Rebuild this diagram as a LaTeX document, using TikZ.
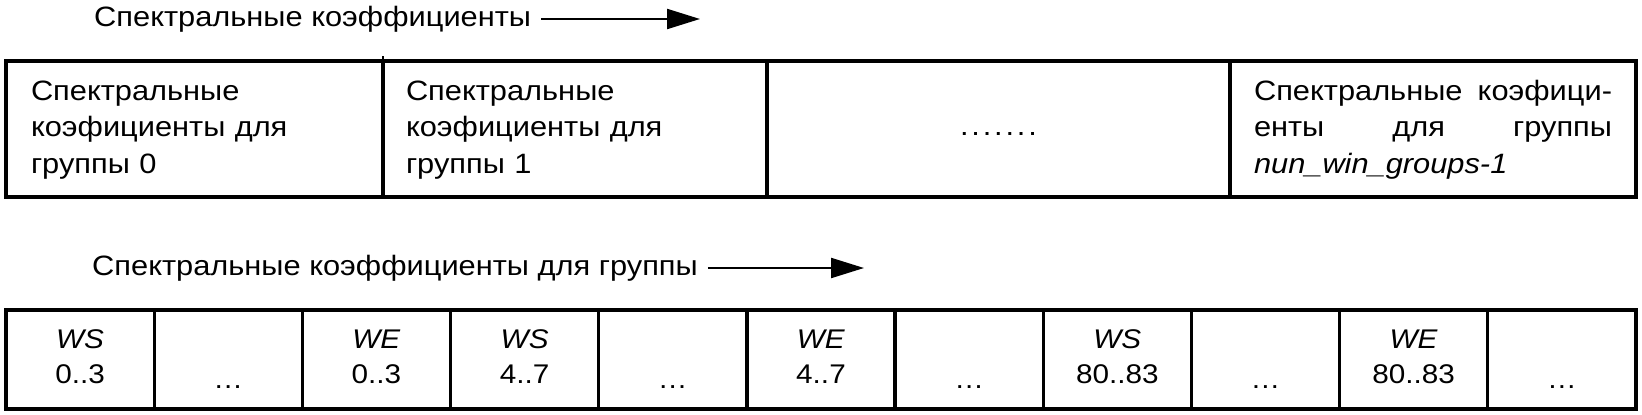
\documentclass[tikz,border=0pt]{standalone}
\usepackage{fontspec}
\setmainfont{Liberation Sans}[FakeStretch=1.1]
\usetikzlibrary{arrows.meta,positioning}

\begin{document}
\begin{tikzpicture}[
  x=1pt, y=-1pt,
  font=\fontsize{28}{36.5}\selectfont,
  node distance=0pt,
  grp/.style={draw, line width=3.2pt, outer sep=0pt, inner sep=0pt, minimum height=136pt, align=left, text height=22pt, text depth=80pt},
  win/.style={draw, line width=3.2pt, outer sep=0pt, inner sep=0pt, minimum width=148.18pt, minimum height=99pt, text width=130pt, align=center, font=\fontsize{27}{35}\selectfont, text height=22pt, text depth=45pt},
  gap/.style={win, text height=60pt, text depth=3pt},
  lbl/.style={inner sep=0pt, anchor=west},
  flow/.style={line width=2.2pt, -{Triangle[length=33pt, width=20pt]}}
]
\useasboundingbox (0,0) rectangle (1642,415);

% upper row: groups
\node[lbl] (lblTop) at (94,19) {Спектральные коэффициенты};
\coordinate (topTip) at (700,19);
\draw[flow] ([xshift=10pt]lblTop.east) -- (lblTop.east -| topTip);

\node[grp, anchor=north west, minimum width=377pt, text width=327pt] (g0) at (6,61) {Спектральные\\коэфициенты для\\группы 0};
\node[grp, right=of g0, minimum width=384pt, text width=338pt] (g1) {Спектральные\\коэфициенты для\\группы 1};
\node[grp, right=of g1, minimum width=463pt, text width=400pt, align=center, text height=20pt, text depth=8pt] (gdots) {\addfontfeatures{LetterSpace=10}.......};
\node[grp, right=of gdots, minimum width=406pt, text width=358pt] (glast) {\makebox[358pt][s]{Спектральные\hfill коэфици-}\\\makebox[358pt][s]{енты\hfill для\hfill группы}\\\textit{nun\_win\_groups-1}};
\draw[line width=1.2pt] (g1.north west) -- ++(0,-5);

% lower row: windows of one group
\node[lbl] (lblBot) at (92,268) {Спектральные коэффициенты для группы};
\coordinate (botTip) at (864,266);
\draw[flow] ([xshift=10pt]lblBot.east) -- (lblBot.east -| botTip);

\node[win, anchor=north west] (w1) at (6,310) {\textit{WS}\\0..3};
\node[gap, right=of w1] (w2) {…};
\node[win, right=of w2] (w3) {\textit{WE}\\0..3};
\node[win, right=of w3] (w4) {\textit{WS}\\4..7};
\node[gap, right=of w4] (w5) {…};
\node[win, right=of w5] (w6) {\textit{WE}\\4..7};
\node[gap, right=of w6] (w7) {…};
\node[win, right=of w7] (w8) {\textit{WS}\\80..83};
\node[gap, right=of w8] (w9) {…};
\node[win, right=of w9] (w10) {\textit{WE}\\80..83};
\node[gap, right=of w10] (w11) {…};
\end{tikzpicture}
\end{document}
